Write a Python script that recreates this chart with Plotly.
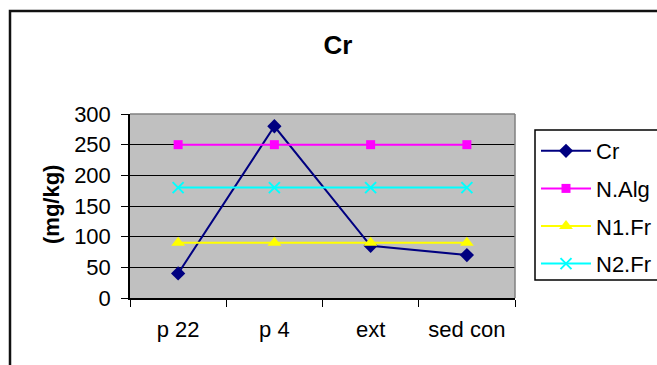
import plotly.graph_objects as go

# Sample sites and chromium concentrations (mg/kg) with reference norms
categories = ["p 22", "p 4", "ext", "sed con"]
cr = [40, 280, 85, 70]
n_alg = [250, 250, 250, 250]
n1_fr = [90, 90, 90, 90]
n2_fr = [180, 180, 180, 180]
y_ticks = [0, 50, 100, 150, 200, 250, 300]

W, H = 657, 365
L, R, T, B = 130, 142, 114, 67
PW, PH = W - L - R, H - T - B

FONT = "Liberation Sans, Arial, sans-serif"


def px_x(px):
    return (px - L) / PW


def px_y(py):
    return (H - B - py) / PH


series = [
    ("Cr", cr, "#000080", "diamond", 11, {}),
    ("N.Alg", n_alg, "#FF00FF", "square", 9, {}),
    ("N1.Fr", n1_fr, "#FFFF00", "triangle-up", 12, {}),
    ("N2.Fr", n2_fr, "#00FFFF", "x-thin", 11, {"line": dict(color="#00FFFF", width=2)}),
]

fig = go.Figure()
for name, vals, color, symbol, size, extra in series:
    fig.add_trace(go.Scatter(
        x=categories, y=vals, name=name, mode="lines+markers",
        legendgroup=name,
        line=dict(color=color, width=2),
        marker=dict(symbol=symbol, size=size, color=color, **extra),
    ))

shapes = [
    # outer chart border
    dict(type="rect", xref="paper", yref="paper",
         x0=px_x(10), x1=px_x(680), y0=px_y(390), y1=px_y(11),
         line=dict(color="#111111", width=2.5), fillcolor="rgba(0,0,0,0)", layer="below"),
    # top and right edges of the plot area
    dict(type="line", xref="paper", yref="paper", x0=0, x1=1, y0=1, y1=1,
         line=dict(color="#808080", width=1.5)),
    dict(type="line", xref="paper", yref="paper", x0=1, x1=1, y0=0, y1=1,
         line=dict(color="#808080", width=1.5)),
    # legend frame
    dict(type="rect", xref="paper", yref="paper",
         x0=px_x(535), x1=px_x(680), y0=px_y(280), y1=px_y(130),
         line=dict(color="#000000", width=1.5), fillcolor="rgba(0,0,0,0)"),
]

fig.update_layout(
    width=W, height=H,
    margin=dict(l=L, r=R, t=T, b=B, autoexpand=False),
    paper_bgcolor="white",
    plot_bgcolor="#C0C0C0",
    font=dict(family=FONT, size=22, color="black"),
    title=dict(text="<b>Cr</b>", x=338 / W, xanchor="center",
               y=1 - 45 / H, yanchor="middle",
               font=dict(family=FONT, size=26, color="black")),
    showlegend=True,
    legend=dict(x=px_x(536), y=px_y(130), xanchor="left", yanchor="top",
                bgcolor="rgba(0,0,0,0)", borderwidth=0,
                font=dict(family=FONT, size=22, color="black"),
                tracegroupgap=6, itemwidth=50, traceorder="grouped"),
    shapes=shapes,
    annotations=[dict(text="<b>(mg/kg)</b>", xref="paper", yref="paper",
                      x=px_x(51), y=px_y(205), xanchor="center", yanchor="middle",
                      showarrow=False, textangle=-90,
                      font=dict(family=FONT, size=22, color="black"))],
)

fig.update_xaxes(
    type="category", range=[-0.5, 3.5], tickson="boundaries",
    ticks="outside", ticklen=7, tickcolor="black", tickwidth=1,
    showline=True, linecolor="black", linewidth=1.5,
    showgrid=False, zeroline=False, ticklabelstandoff=11,
)
fig.update_yaxes(
    range=[0, 300], tickvals=y_ticks,
    ticks="outside", ticklen=7, tickcolor="black", tickwidth=1,
    showline=True, linecolor="black", linewidth=1.5,
    showgrid=True, gridcolor="black", gridwidth=1,
    zeroline=False, ticklabelstandoff=6,
)

fig.write_html("out.html")
